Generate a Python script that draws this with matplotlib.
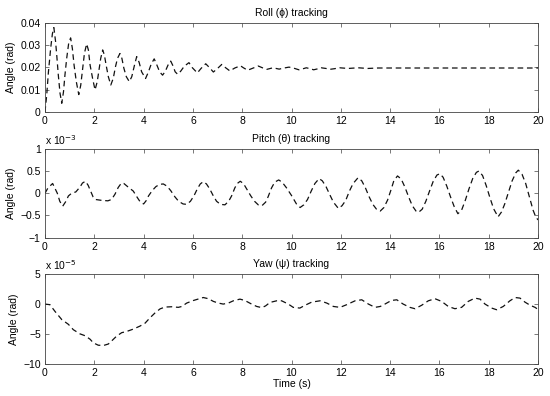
import matplotlib.pyplot as plt

plt.rcParams['font.family'] = ['Liberation Sans', 'DejaVu Sans']
plt.rcParams['font.size'] = 7.5

# roll angle (rad)
roll_t = [0.0, 0.07, 0.14, 0.23, 0.3, 0.36, 0.43, 0.48, 0.54, 0.61, 0.68, 0.75, 0.81, 0.88,
          0.96, 1.04, 1.11, 1.18, 1.27, 1.37, 1.45, 1.53, 1.6, 1.69, 1.76, 1.83, 1.93, 2.03,
          2.12, 2.19, 2.26, 2.34, 2.41, 2.48, 2.57, 2.67, 2.77, 2.86, 2.94, 3.04, 3.12, 3.2,
          3.3, 3.42, 3.52, 3.62, 3.72, 3.82, 3.92, 4.08, 4.19, 4.31, 4.43, 4.54, 4.65, 4.77,
          4.88, 4.99, 5.1, 5.2, 5.28, 5.38, 5.5, 5.65, 5.84, 5.98, 6.18, 6.33, 6.52, 6.68,
          6.83, 7.0, 7.17, 7.33, 7.5, 7.7, 7.93, 8.05, 8.22, 8.45, 8.65, 8.82, 9.0, 9.25,
          9.5, 9.7, 9.9, 10.1, 10.3, 10.45, 10.6, 10.75, 10.9, 11.05, 11.2, 11.4, 11.55,
          11.75, 11.95, 12.3, 12.7, 13.1, 13.5, 14.0, 15.0, 16.0, 17.0, 18.0, 19.0, 20.0]
roll = [0.0, 0.0076, 0.018, 0.0285, 0.035, 0.0378, 0.0315, 0.025, 0.0166, 0.0084, 0.0039,
        0.009, 0.0166, 0.024, 0.0307, 0.0332, 0.0285, 0.021, 0.0136, 0.0078, 0.012, 0.0196,
        0.0263, 0.0305, 0.0278, 0.021, 0.0151, 0.0099, 0.0136, 0.0188, 0.024, 0.0278, 0.0255,
        0.021, 0.0158, 0.0121, 0.0151, 0.0203, 0.024, 0.0262, 0.024, 0.0196, 0.0158, 0.0136,
        0.0158, 0.0205, 0.0248, 0.0222, 0.018, 0.015, 0.0178, 0.0215, 0.0238, 0.021, 0.018,
        0.0165, 0.0182, 0.021, 0.0228, 0.0205, 0.018, 0.0169, 0.0182, 0.0205, 0.0221, 0.0198,
        0.0175, 0.0195, 0.0216, 0.0198, 0.0179, 0.0195, 0.0213, 0.0198, 0.0184, 0.0197,
        0.0207, 0.0198, 0.0187, 0.0197, 0.0206, 0.0198, 0.0191, 0.0198, 0.0192, 0.0197,
        0.0201, 0.0196, 0.0189, 0.0193, 0.0198, 0.0194, 0.0189, 0.0193, 0.0198, 0.0195,
        0.0191, 0.0194, 0.0198, 0.0195, 0.0198, 0.0195, 0.0197, 0.0197, 0.0197, 0.0197,
        0.0197, 0.0197, 0.0197, 0.0197]

# pitch angle (x 1e-3 rad)
pitch_t = [0.0, 0.12, 0.31, 0.5, 0.6, 0.72, 0.85, 0.95, 1.08, 1.25, 1.42, 1.52, 1.64, 1.75,
           1.85, 1.95, 2.05, 2.3, 2.55, 2.7, 2.84, 2.97, 3.1, 3.2, 3.35, 3.58, 3.75, 3.87,
           4.0, 4.1, 4.2, 4.35, 4.5, 4.65, 4.8, 4.95, 5.1, 5.27, 5.42, 5.6, 5.75, 5.9, 6.05,
           6.18, 6.3, 6.42, 6.55, 6.68, 6.82, 6.96, 7.12, 7.3, 7.45, 7.57, 7.7, 7.8, 7.92,
           8.05, 8.2, 8.35, 8.5, 8.65, 8.8, 8.95, 9.05, 9.19, 9.32, 9.48, 9.62, 9.8, 10.0,
           10.2, 10.35, 10.5, 10.65, 10.8, 10.95, 11.12, 11.25, 11.4, 11.56, 11.7, 11.9,
           12.05, 12.2, 12.35, 12.5, 12.7, 12.85, 13.0, 13.15, 13.3, 13.45, 13.6, 13.75,
           13.9, 14.05, 14.15, 14.3, 14.45, 14.6, 14.75, 14.9, 15.05, 15.15, 15.3, 15.45,
           15.6, 15.75, 15.9, 16.02, 16.15, 16.3, 16.45, 16.6, 16.75, 16.9, 17.05, 17.2,
           17.35, 17.5, 17.6, 17.75, 17.9, 18.05, 18.2, 18.38, 18.52, 18.65, 18.8, 18.95,
           19.1, 19.2, 19.35, 19.5, 19.65, 19.8, 19.9, 20.0]
pitch = [0.0, 0.12, 0.22, 0.0, -0.18, -0.29, -0.18, -0.06, 0.0, 0.03, 0.14, 0.23, 0.27, 0.18,
         0.05, -0.08, -0.14, -0.16, -0.17, -0.14, -0.02, 0.13, 0.23, 0.22, 0.15, 0.05, -0.1,
         -0.2, -0.24, -0.17, -0.06, 0.06, 0.15, 0.2, 0.21, 0.16, 0.06, -0.08, -0.18, -0.24,
         -0.25, -0.18, -0.05, 0.1, 0.21, 0.26, 0.21, 0.1, -0.05, -0.18, -0.25, -0.26, -0.18,
         -0.06, 0.12, 0.22, 0.27, 0.22, 0.08, -0.06, -0.18, -0.26, -0.28, -0.2, -0.08, 0.12,
         0.25, 0.3, 0.25, 0.12, -0.05, -0.24, -0.32, -0.26, -0.14, 0.05, 0.22, 0.33, 0.28,
         0.15, -0.04, -0.2, -0.34, -0.28, -0.16, 0.05, 0.22, 0.35, 0.28, 0.12, -0.08, -0.25,
         -0.36, -0.4, -0.32, -0.15, 0.1, 0.28, 0.39, 0.32, 0.14, -0.08, -0.28, -0.4, -0.43,
         -0.36, -0.18, 0.05, 0.27, 0.41, 0.44, 0.36, 0.16, -0.08, -0.3, -0.46, -0.38, -0.16,
         0.1, 0.33, 0.47, 0.5, 0.4, 0.17, -0.1, -0.35, -0.53, -0.42, -0.24, 0.02, 0.28, 0.46,
         0.52, 0.43, 0.22, -0.08, -0.38, -0.52, -0.6]

# yaw angle (x 1e-5 rad)
yaw_t = [0.0, 0.2, 0.4, 0.68, 0.95, 1.15, 1.42, 1.62, 1.83, 1.96, 2.16, 2.37, 2.57, 2.7,
         2.9, 3.11, 3.31, 3.58, 3.85, 4.06, 4.26, 4.46, 4.67, 4.87, 5.14, 5.41, 5.55, 5.75,
         6.02, 6.42, 6.63, 6.83, 7.03, 7.23, 7.44, 7.64, 7.91, 8.11, 8.38, 8.59, 8.8, 8.95,
         9.13, 9.4, 9.6, 9.87, 10.07, 10.34, 10.55, 10.82, 11.16, 11.43, 11.7, 11.97, 12.24,
         12.58, 12.85, 13.12, 13.39, 13.6, 13.79, 14.05, 14.27, 14.53, 14.8, 15.01, 15.28,
         15.55, 15.82, 16.09, 16.36, 16.63, 16.9, 17.17, 17.44, 17.65, 17.85, 18.12, 18.32,
         18.59, 18.86, 19.07, 19.27, 19.47, 19.68, 19.88, 20.0]
yaw = [0.0, -0.1, -1.2, -2.6, -3.4, -4.3, -5.0, -5.3, -5.9, -6.5, -6.9, -6.95, -6.7, -6.2,
       -5.4, -4.8, -4.6, -4.2, -3.7, -3.2, -2.3, -1.5, -0.8, -0.5, -0.45, -0.55, -0.4, 0.17,
       0.6, 1.1, 0.9, 0.45, 0.17, 0.0, 0.17, 0.55, 0.83, 0.6, 0.0, -0.4, -0.6, -0.3, 0.28,
       0.55, 0.55, 0.0, -0.55, -0.67, -0.2, 0.33, 0.55, 0.17, -0.4, -0.55, -0.1, 0.55, 0.72,
       0.0, -0.55, -0.4, 0.0, 0.6, 0.72, 0.0, -0.55, -0.78, -0.2, 0.55, 0.9, 0.45, -0.4,
       -0.78, -0.55, 0.45, 1.0, 0.83, 0.0, -0.67, -0.95, -0.4, 0.55, 1.1, 1.0, 0.33, -0.2,
       -0.55, -0.9]

xticks = [0, 2, 4, 6, 8, 10, 12, 14, 16, 18, 20]

fig = plt.figure(figsize=(5.5, 3.96), dpi=100)
ax1 = fig.add_axes([0.0818, 0.7172, 0.8964, 0.2255])
ax2 = fig.add_axes([0.0818, 0.3997, 0.8964, 0.2245])
ax3 = fig.add_axes([0.0818, 0.0816, 0.8964, 0.2258])

panels = [
    (ax1, roll_t, roll, 'Roll (ϕ) tracking', (0, 0.04), [0, 0.01, 0.02, 0.03, 0.04], None),
    (ax2, pitch_t, pitch, 'Pitch (θ) tracking', (-1, 1), [-1, -0.5, 0, 0.5, 1], '-3'),
    (ax3, yaw_t, yaw, 'Yaw (ψ) tracking', (-10, 5), [-10, -5, 0, 5], '-5'),
]

for ax, t, v, title, ylim, yt, expo in panels:
    ax.plot(t, v, color='#111111', lw=0.9, dashes=(4.5, 3.0))
    ax.set_xlim(0, 20)
    ax.set_ylim(*ylim)
    ax.set_xticks(xticks)
    ax.set_yticks(yt)
    ax.set_yticklabels([('%g' % y).replace('-', '\u2212') for y in yt])
    ax.set_title(title, fontsize=7.5, pad=5)
    ax.set_ylabel('Angle (rad)', labelpad=3)
    ax.tick_params(direction='in', length=3, width=0.5, top=True, right=True,
                   labelsize=7.5, pad=3, color='#444444')
    for s in ax.spines.values():
        s.set_linewidth(0.6)
        s.set_color('#444444')
    if expo:
        ax.text(0.0, 1.02, r'x 10$^{%s}$' % expo, transform=ax.transAxes,
                fontsize=7.5, ha='left', va='bottom')

ax3.set_xlabel('Time (s)', labelpad=1)

fig.savefig('out.png', dpi=100)
